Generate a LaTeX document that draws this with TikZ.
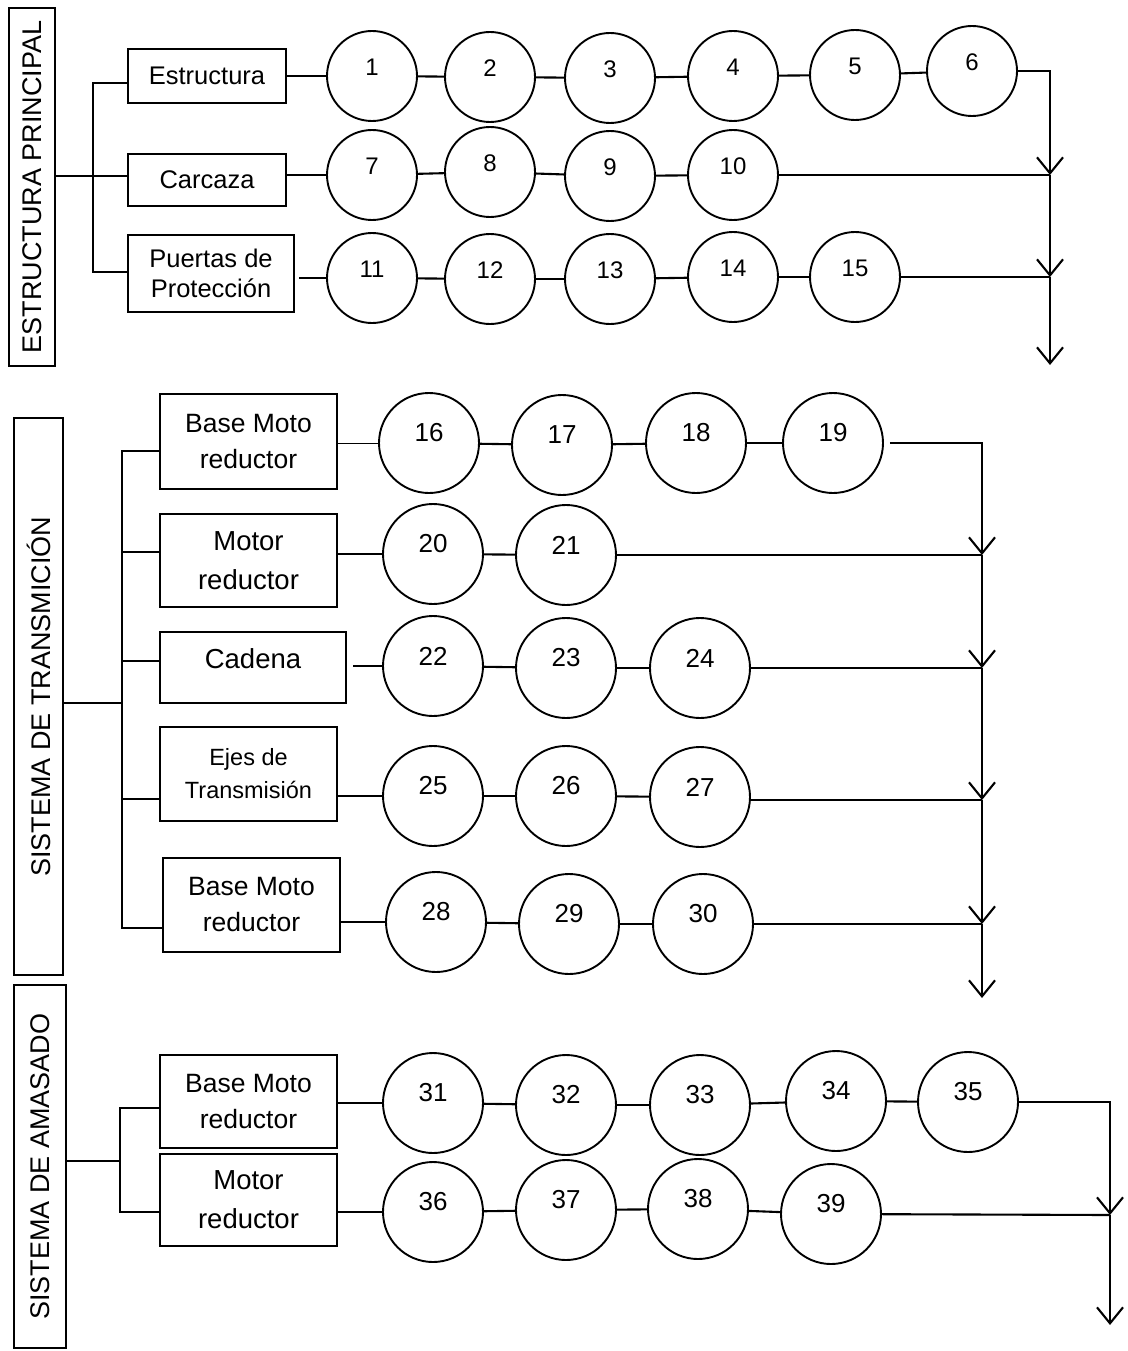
\documentclass[tikz,border=0pt]{standalone}
\usepackage{fontspec}
\setmainfont{Liberation Sans}
\usetikzlibrary{arrows.meta}
\begin{document}
\begin{tikzpicture}[x=1pt,y=-1pt,
  lk/.style={line width=2.1pt},
  thin link/.style={line width=1pt},
  arr/.style={lk,-{Straight Barb[length=16pt,width=26pt]}},
  sect/.style={draw,line width=2.3pt,rotate=90,inner sep=0pt,
    font=\fontsize{27}{30}\selectfont},
  box/.style={draw,line width=2.3pt,inner sep=0pt,align=center},
  num1/.style={yshift=9pt,font=\fontsize{24}{24}\selectfont},
  num2/.style={yshift=10pt,font=\fontsize{26}{26}\selectfont},
  cA/.style={draw,circle,line width=1.9pt,minimum size=90pt,inner sep=0pt,
    label={[num1]center:#1}},
  cB/.style={draw,circle,line width=1.9pt,minimum size=100pt,inner sep=0pt,
    label={[num2]center:#1}},
  f1/.style={font=\fontsize{25.5}{30}\selectfont},
  f2/.style={font=\fontsize{26.5}{36}\selectfont},
  f3/.style={font=\fontsize{27.5}{39}\selectfont},
  f4/.style={font=\fontsize{23.5}{33}\selectfont},
]
\fill[white] (0,0) rectangle (1127,1351);
\useasboundingbox (0,0) rectangle (1127,1351);

% ---------------- ESTRUCTURA PRINCIPAL ----------------
\node[sect,minimum width=358pt,minimum height=46pt] (lab1) at (32,187) {ESTRUCTURA PRINCIPAL};
\node[box,f1,minimum width=158pt,minimum height=54pt] (bEst) at (207,76) {Estructura};
\node[box,f1,minimum width=158pt,minimum height=52pt] (bCar) at (207,180) {Carcaza};
\node[box,f1,minimum width=166pt,minimum height=77pt] (bPue) at (211,273.5) {Puertas de\\Protección};

\coordinate (tA) at (93,176);
\draw[lk] (lab1.south |- tA) -- (bCar.west |- tA);
\draw[lk] (bEst.west |- 0,83) -| (tA) |- (bPue.west |- 0,272);

\foreach \n/\x/\y in {1/372/76,2/490/77,3/610/78,4/733/76,5/855/75,6/972/71,
                      7/372/175,8/490/172,9/610/176,10/733/175,
                      11/372/278,12/490/279,13/610/279,14/733/277,15/855/277}
  \node[cA=\n] (c\n) at (\x,\y) {};
\foreach \a/\b in {1/2,2/3,3/4,4/5,5/6,7/8,8/9,9/10,11/12,12/13,13/14,14/15}
  \draw[lk] (c\a) -- (c\b);
\draw[lk] (bEst.east |- c1) -- (c1);
\draw[lk] (bCar.east |- c7) -- (c7);
\draw[lk] ([xshift=4pt]bPue.east |- c11) -- (c11);

\coordinate (a1) at (1050,175);
\coordinate (a2) at (1050,277);
\coordinate (a3) at (1050,365);
\draw[arr] (c6.east) -| (a1);
\draw[lk] (c10) -- (a1);
\draw[arr] (a1) -- (a2);
\draw[lk] (c15) -- (a2);
\draw[arr] (a2) -- (a3);

% ---------------- SISTEMA DE TRANSMICIÓN ----------------
\node[sect,minimum width=557pt,minimum height=49pt] (lab2) at (38.5,696.5) {SISTEMA DE TRANSMICIÓN};
\node[box,f2,minimum width=177pt,minimum height=95pt] (b1) at (248.5,441.5) {Base Moto\\reductor};
\node[box,f3,minimum width=177pt,minimum height=93pt] (b2) at (248.5,560.5) {Motor\\reductor};
\node[box,minimum width=186pt,minimum height=71pt,
      label={[yshift=9pt,f3]center:Cadena}] (b3) at (253,667.5) {};
\node[box,f4,minimum width=177pt,minimum height=94pt] (b4) at (248.5,774) {Ejes de\\Transmisión};
\node[box,f2,minimum width=177pt,minimum height=94pt] (b5) at (251.5,905) {Base Moto\\reductor};

\coordinate (s0) at (122,703);
\coordinate (s1) at (122,451);
\coordinate (s2) at (122,552);
\coordinate (s3) at (122,661);
\coordinate (s4) at (122,799);
\coordinate (s5) at (122,928);
\draw[lk] (lab2.south |- s0) -- (s0);
\draw[lk] (s1 -| b1.west) -- (s1) -- (s5) -- (s5 -| b5.west);
\foreach \s/\b in {s2/b2,s3/b3,s4/b4}
  \draw[lk] (\s) -- (\s -| \b.west);

\foreach \n/\x/\y in {16/429/443,17/562/445,18/696/443,19/833/443,
                      20/433/554,21/566/555,
                      22/433/666,23/566/668,24/700/668,
                      25/433/796,26/566/796,27/700/797,
                      28/436/922,29/569/924,30/703/924}
  \node[cB=\n] (c\n) at (\x,\y) {};
\foreach \a/\b in {16/17,17/18,18/19,20/21,22/23,23/24,25/26,26/27,28/29,29/30}
  \draw[lk] (c\a) -- (c\b);
\draw[thin link] (b1.east |- c16) -- (c16);
\draw[lk] (b2.east |- c20) -- (c20);
\draw[lk] ([xshift=6pt]b3.east |- c22) -- (c22);
\draw[lk] (b4.east |- c25) -- (c25);
\draw[lk] (b5.east |- c28) -- (c28);

\coordinate (d1) at (982,555);
\coordinate (d2) at (982,668);
\coordinate (d3) at (982,800);
\coordinate (d4) at (982,924);
\coordinate (d5) at (982,998);
\draw[arr] ([xshift=6pt]c19.east) -| (d1);
\draw[lk] (c21) -- (d1);
\draw[arr] (d1) -- (d2);
\draw[lk] (c24) -- (d2);
\draw[arr] (d2) -- (d3);
\draw[lk] (c27.east |- d3) -- (d3);
\draw[arr] (d3) -- (d4);
\draw[lk] (c30) -- (d4);
\draw[arr] (d4) -- (d5);

% ---------------- SISTEMA DE AMASADO ----------------
\node[sect,minimum width=363pt,minimum height=52pt] (lab3) at (40,1166.5) {SISTEMA DE AMASADO};
\node[box,f2,minimum width=177pt,minimum height=93pt] (b6) at (248.5,1101.5) {Base Moto\\reductor};
\node[box,f3,minimum width=177pt,minimum height=92pt] (b7) at (248.5,1200) {Motor\\reductor};

\coordinate (u0) at (120,1161);
\coordinate (u1) at (120,1108);
\coordinate (u2) at (120,1212);
\draw[lk] (lab3.south |- u0) -- (u0);
\draw[lk] (u1 -| b6.west) -- (u1) -- (u2) -- (u2 -| b7.west);

\foreach \n/\x/\y in {31/433/1103,32/566/1105,33/700/1105,34/836/1101,35/968/1102,
                      36/433/1212,37/566/1210,38/698/1209,39/831/1214}
  \node[cB=\n] (c\n) at (\x,\y) {};
\foreach \a/\b in {31/32,32/33,33/34,34/35,36/37,37/38,38/39}
  \draw[lk] (c\a) -- (c\b);
\draw[lk] (b6.east |- c31) -- (c31);
\draw[lk] (b7.east |- c36) -- (c36);

\coordinate (e1) at (1110,1215);
\coordinate (e2) at (1110,1325);
\draw[arr] (c35.east) -| (e1);
\draw[lk] (c39) -- (e1);
\draw[arr] (e1) -- (e2);
\end{tikzpicture}
\end{document}
